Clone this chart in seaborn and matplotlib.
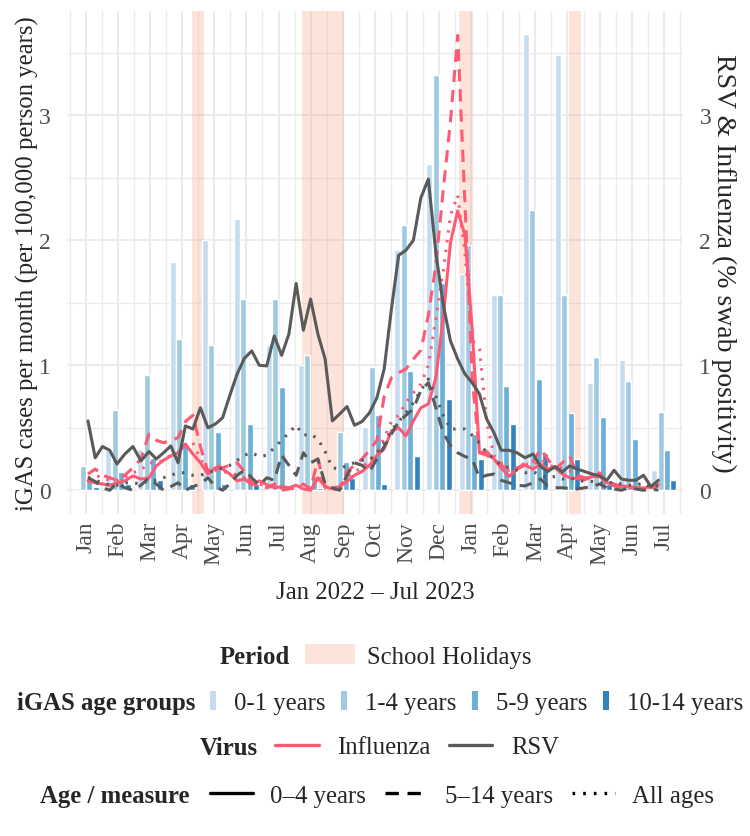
import numpy as np
import pandas as pd
import seaborn as sns
import matplotlib.pyplot as plt
from matplotlib.patches import Patch
from matplotlib.lines import Line2D

# monthly iGAS rates (per 100,000 person years), Jan 2022 - Jul 2023
months = ["Jan", "Feb", "Mar", "Apr", "May", "Jun", "Jul", "Aug", "Sep", "Oct",
          "Nov", "Dec", "Jan", "Feb", "Mar", "Apr", "May", "Jun", "Jul"]
age_groups = ["0-1 years", "1-4 years", "5-9 years", "10-14 years"]
igas_0_1 = [0.0, 0.32, 0.33, 1.83, 2.0, 2.17, 1.16, 1.0, 0.0, 0.51,
            1.92, 2.61, 1.73, 1.56, 3.65, 3.48, 0.86, 1.04, 0.16]
igas_1_4 = [0.195, 0.64, 0.92, 1.21, 1.16, 1.53, 1.53, 1.08, 0.47, 0.99,
            2.12, 3.32, 1.96, 1.56, 2.24, 1.56, 1.07, 0.875, 0.63]
igas_5_9 = [0.09, 0.145, 0.26, 0.38, 0.47, 0.53, 0.83, 0.115, 0.23, 0.60,
            0.955, 1.66, 0.45, 0.835, 0.89, 0.62, 0.59, 0.41, 0.32]
igas_10_14 = [0.03, 0.05, 0.08, 0.05, 0.05, 0.05, 0.03, 0.02, 0.10, 0.05,
              0.275, 0.73, 0.25, 0.53, 0.30, 0.25, 0.05, 0.02, 0.08]

# weekly swab positivity, weeks starting 2022-01-03
first_week = "2022-01-03"
flu_0_4 = [0.075, 0.06, 0.05, 0.04, 0.06, 0.075, 0.115, 0.09, 0.10, 0.195,
           0.24, 0.275, 0.30, 0.37, 0.29, 0.22, 0.13, 0.18, 0.17, 0.13,
           0.075, 0.09, 0.045, 0.075, 0.045, 0.02, 0.03, 0.02, 0.04, 0.01,
           0.0, 0.10, 0.03, 0.01, 0.03, 0.07, 0.12, 0.15, 0.20, 0.28,
           0.33, 0.475, 0.50, 0.435, 0.555, 0.66, 0.69, 0.90, 1.38, 1.98,
           2.235, 2.04, 1.29, 0.30, 0.31, 0.25, 0.18, 0.11, 0.17, 0.20,
           0.17, 0.21, 0.17, 0.18, 0.13, 0.10, 0.094, 0.083, 0.11, 0.11,
           0.06, 0.048, 0.035, 0.03, 0.02, 0.014, 0.035, 0.048]
flu_5_14 = [0.13, 0.17, 0.12, 0.10, 0.08, 0.12, 0.18, 0.25, 0.45, 0.40,
            0.38, 0.40, 0.42, 0.55, 0.60, 0.35, 0.15, 0.20, 0.18, 0.20,
            0.22, 0.15, 0.06, 0.03, 0.02, 0.05, 0.0, 0.01, 0.02, 0.05,
            0.01, 0.25, 0.02, 0.0, 0.02, 0.15, 0.20, 0.25, 0.32, 0.40,
            0.75, 0.90, 0.94, 0.97, 1.05, 1.12, 1.40, 1.80, 2.40, 2.95,
            3.64, 2.30, 0.90, 0.30, 0.28, 0.25, 0.20, 0.17, 0.17, 0.22,
            0.23, 0.33, 0.25, 0.17, 0.22, 0.275, 0.12, 0.10, 0.09, 0.14,
            0.06, 0.035, 0.02, 0.02, 0.014, 0.03, 0.02, 0.03]
flu_all = [0.10, 0.12, 0.10, 0.08, 0.08, 0.10, 0.14, 0.16, 0.22, 0.22,
           0.24, 0.28, 0.30, 0.36, 0.38, 0.25, 0.15, 0.16, 0.15, 0.14,
           0.12, 0.10, 0.05, 0.05, 0.03, 0.03, 0.02, 0.02, 0.03, 0.03,
           0.02, 0.12, 0.03, 0.02, 0.03, 0.10, 0.15, 0.18, 0.24, 0.30,
           0.42, 0.55, 0.60, 0.70, 0.78, 0.85, 1.00, 1.37, 1.75, 2.20,
           2.36, 1.90, 1.20, 1.13, 0.55, 0.28, 0.22, 0.16, 0.18, 0.21,
           0.20, 0.25, 0.21, 0.18, 0.18, 0.16, 0.11, 0.10, 0.10, 0.12,
           0.07, 0.05, 0.03, 0.03, 0.02, 0.02, 0.03, 0.04]
rsv_0_4 = [0.555, 0.26, 0.35, 0.32, 0.21, 0.29, 0.35, 0.235, 0.31, 0.25,
           0.30, 0.355, 0.22, 0.515, 0.49, 0.66, 0.50, 0.53, 0.58, 0.76,
           0.93, 1.055, 1.115, 1.0, 0.995, 1.235, 1.08, 1.25, 1.655, 1.28,
           1.53, 1.25, 1.05, 0.555, 0.61, 0.67, 0.52, 0.55, 0.62, 0.74,
           0.97, 1.45, 1.88, 1.92, 2.0, 2.34, 2.49, 1.90, 1.49, 1.195,
           1.05, 0.93, 0.86, 0.77, 0.57, 0.46, 0.32, 0.32, 0.30, 0.26,
           0.29, 0.19, 0.15, 0.19, 0.147, 0.195, 0.17, 0.15, 0.13, 0.115,
           0.08, 0.16, 0.09, 0.08, 0.08, 0.12, 0.03, 0.08]
rsv_5_14 = [0.10, 0.07, 0.02, 0.0, 0.06, 0.02, 0.0, 0.04, 0.10, 0.05,
            0.0, 0.03, 0.06, 0.0, 0.03, 0.05, 0.10, 0.03, 0.0, 0.05,
            0.12, 0.16, 0.10, 0.04, 0.10, 0.08, 0.28, 0.20, 0.12, 0.30,
            0.22, 0.25, 0.05, 0.02, 0.0, 0.12, 0.22, 0.20, 0.15, 0.25,
            0.35, 0.45, 0.55, 0.60, 0.65, 0.80, 0.86, 0.66, 0.46, 0.36,
            0.30, 0.27, 0.25, 0.10, 0.12, 0.13, 0.08, 0.06, 0.04, 0.035,
            0.06, 0.09, 0.035, 0.02, 0.02, 0.014, 0.01, 0.02, 0.03, 0.05,
            0.02, 0.01, 0.0, 0.02, 0.01, 0.0, 0.01, 0.0]
rsv_all = [0.10, 0.08, 0.06, 0.04, 0.04, 0.06, 0.06, 0.05, 0.08, 0.08,
           0.10, 0.12, 0.14, 0.14, 0.12, 0.12, 0.14, 0.16, 0.18, 0.20,
           0.24, 0.28, 0.30, 0.27, 0.28, 0.34, 0.40, 0.46, 0.52, 0.44,
           0.45, 0.41, 0.31, 0.18, 0.17, 0.20, 0.22, 0.24, 0.24, 0.30,
           0.38, 0.48, 0.55, 0.62, 0.70, 0.80, 0.89, 0.75, 0.60, 0.49,
           0.49, 0.49, 0.44, 0.38, 0.30, 0.25, 0.20, 0.18, 0.16, 0.14,
           0.15, 0.12, 0.10, 0.11, 0.09, 0.10, 0.08, 0.07, 0.07, 0.06,
           0.05, 0.07, 0.05, 0.04, 0.04, 0.06, 0.02, 0.04]

holiday_start = ["2022-04-10", "2022-07-24", "2022-12-20", "2023-04-02"]
holiday_end = ["2022-04-21", "2022-09-02", "2023-01-03", "2023-04-14"]

blues = ["#c6dbef", "#9ecae1", "#6baed6", "#3182bd"]
flu_col = "#ff5a73"
rsv_col = "#5a5a5a"
measures = ["0\u20134 years", "5\u201314 years", "All ages"]
dash_map = {measures[0]: "", measures[1]: (4.0, 2.6), measures[2]: (0.8, 2.4)}


def month_pos(d):
    d = pd.Timestamp(d)
    return (d.year - 2022) * 12 + d.month - 1 + (d.day - 1) / d.days_in_month


# long tables
bars = pd.DataFrame({
    "month": np.tile(np.arange(len(months)), 4),
    "age": np.repeat(age_groups, len(months)),
    "rate": igas_0_1 + igas_1_4 + igas_5_9 + igas_10_14,
})

weeks = pd.date_range(first_week, periods=len(flu_0_4), freq="7D")
wpos = [month_pos(w) for w in weeks]
frames = []
for virus, m, vals in [("Influenza", measures[0], flu_0_4), ("Influenza", measures[1], flu_5_14),
                       ("Influenza", measures[2], flu_all), ("RSV", measures[0], rsv_0_4),
                       ("RSV", measures[1], rsv_5_14), ("RSV", measures[2], rsv_all)]:
    frames.append(pd.DataFrame({"pos": wpos, "value": vals, "virus": virus, "measure": m}))
lines = pd.concat(frames, ignore_index=True)

sns.set_theme(style="white")
plt.rcParams["font.family"] = ["Liberation Serif", "DejaVu Serif"]
fs = 17.8
tfs = 17

fig = plt.figure(figsize=(7.5, 8.37), dpi=100)
ax = fig.add_axes([0.0897, 0.3847, 0.8206, 0.601])

for s, e in zip(holiday_start, holiday_end):
    ax.axvspan(month_pos(s), month_pos(e), color="#fa9e80", alpha=0.28, lw=0, zorder=1)

sns.barplot(data=bars, x="month", y="rate", hue="age", hue_order=age_groups,
            palette=blues, width=0.8, gap=0.06, legend=False, ax=ax, zorder=2,
            errorbar=None, saturation=1)

sns.lineplot(data=lines, x="pos", y="value", hue="virus", style="measure",
             palette={"Influenza": flu_col, "RSV": rsv_col}, dashes=dash_map,
             style_order=measures, linewidth=2.2, legend=False, errorbar=None,
             ax=ax, zorder=3)

ax.set_xlim(-0.58, 18.59)
ax.set_ylim(-0.19, 3.835)
ax.set_xticks(range(len(months)))
ax.set_xticklabels(months, rotation=90, fontsize=tfs, color="#4d4d4d")
ax.set_xticks(np.arange(-0.5, len(months), 1), minor=True)
ax.set_yticks([0, 1, 2, 3])
ax.set_yticklabels(["0", "1", "2", "3"], fontsize=tfs, color="#4d4d4d")
ax.set_yticks([0.5, 1.5, 2.5, 3.5], minor=True)
ax.grid(which="major", color="#ebebeb", lw=1.5)
ax.grid(which="minor", color="#ebebeb", lw=1.0)
ax.set_axisbelow(True)
ax.tick_params(which="both", length=0)
ax.tick_params(axis="x", pad=5)
ax.tick_params(axis="y", pad=12)
for sp in ax.spines.values():
    sp.set_visible(False)
ax.set_xlabel("Jan 2022 \u2013 Jul 2023", fontsize=fs, labelpad=12)
ax.set_ylabel("iGAS cases per month (per 100,000 person years)", fontsize=fs, labelpad=0)

ax2 = ax.twinx()
ax2.set_ylim(ax.get_ylim())
ax2.set_yticks([0, 1, 2, 3])
ax2.set_yticklabels(["0", "1", "2", "3"], fontsize=tfs, color="#4d4d4d")
ax2.tick_params(length=0, pad=12)
ax2.grid(False)
for sp in ax2.spines.values():
    sp.set_visible(False)
ax2.set_ylabel("RSV & Influenza (% swab positivity)", fontsize=20, rotation=270, labelpad=18)

# legends, one row each
leg_kw = dict(frameon=False, borderpad=0, borderaxespad=0, fontsize=fs, loc="center left")

fig.text(0.387, 0.215, "Period", ha="right", va="center", fontsize=fs, fontweight="bold")
fig.legend([Patch(facecolor="#fa9e80", alpha=0.28, lw=0)], ["School Holidays"],
           bbox_to_anchor=(0.407, 0.215), handlelength=2.0, handleheight=0.85,
           handletextpad=0.5, **leg_kw)

fig.text(0.26, 0.159, "iGAS age groups", ha="right", va="center", fontsize=fs, fontweight="bold")
fig.legend([Patch(facecolor=c, lw=0) for c in blues], age_groups, ncol=4,
           bbox_to_anchor=(0.28, 0.159), handlelength=0.26, handleheight=0.8,
           handletextpad=0.72, columnspacing=0.62, **leg_kw)

fig.text(0.344, 0.1063, "Virus", ha="right", va="center", fontsize=fs, fontweight="bold")
fig.legend([Line2D([], [], color=flu_col, lw=2.4), Line2D([], [], color=rsv_col, lw=2.4)],
           ["Influenza", "RSV"], ncol=2, bbox_to_anchor=(0.367, 0.1063),
           handlelength=1.75, handletextpad=0.77, columnspacing=0.72, **leg_kw)

fig.text(0.253, 0.0478, "Age / measure", ha="right", va="center", fontsize=fs, fontweight="bold")
fig.legend([Line2D([], [], color="black", lw=2.4, dashes=dash_map[m]) if dash_map[m] else
            Line2D([], [], color="black", lw=2.4) for m in measures],
           measures, ncol=3, bbox_to_anchor=(0.28, 0.0478),
           handlelength=1.75, handletextpad=0.67, columnspacing=0.77, **leg_kw)

fig.savefig("out.png", dpi=100)
